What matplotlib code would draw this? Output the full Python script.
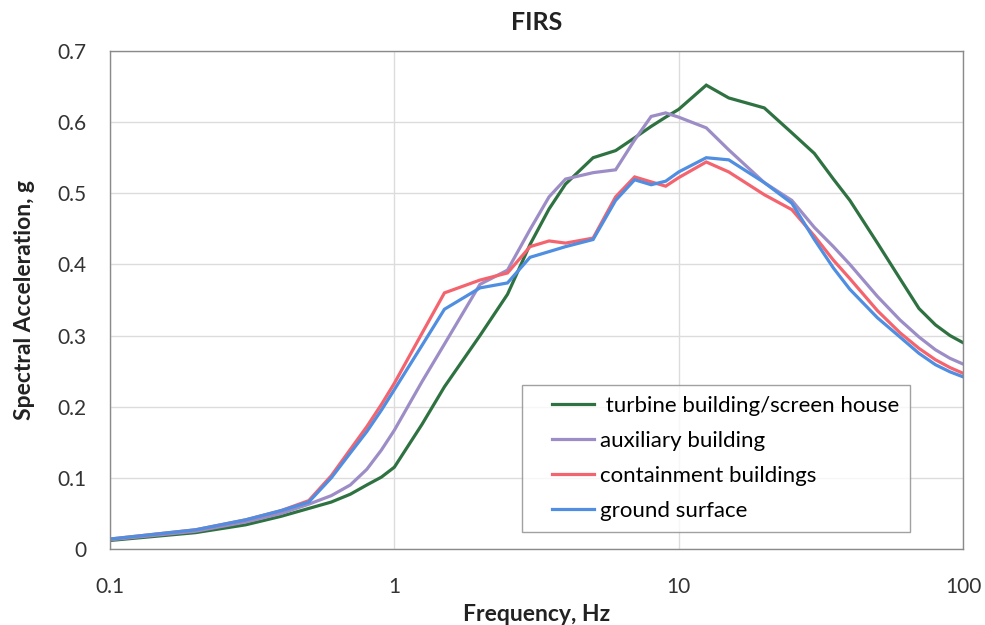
import matplotlib
matplotlib.use("Agg")
import matplotlib.pyplot as plt
from matplotlib.lines import Line2D
from matplotlib.legend_handler import HandlerLine2D
from matplotlib.ticker import FixedLocator, FixedFormatter, NullLocator

freq = [0.1, 0.2, 0.3, 0.4, 0.5, 0.6, 0.7, 0.8, 0.9, 1, 1.25, 1.5, 2, 2.5, 3,
        3.5, 4, 5, 6, 7, 8, 9, 10, 12.5, 15, 20, 25, 30, 35, 40, 50, 60, 70,
        80, 90, 100]

turbine = [0.012, 0.023, 0.034, 0.046, 0.057, 0.066, 0.077, 0.090, 0.101, 0.115,
           0.175, 0.228, 0.300, 0.358, 0.428, 0.478, 0.513, 0.550, 0.560, 0.578,
           0.594, 0.607, 0.618, 0.652, 0.634, 0.620, 0.585, 0.556, 0.520, 0.490,
           0.430, 0.380, 0.338, 0.315, 0.300, 0.290]

auxiliary = [0.013, 0.025, 0.038, 0.050, 0.063, 0.075, 0.090, 0.112, 0.139, 0.167,
             0.235, 0.288, 0.372, 0.392, 0.449, 0.495, 0.520, 0.529, 0.533, 0.575,
             0.608, 0.613, 0.607, 0.592, 0.561, 0.515, 0.490, 0.452, 0.425, 0.400,
             0.355, 0.322, 0.298, 0.280, 0.268, 0.260]

containment = [0.014, 0.027, 0.041, 0.054, 0.068, 0.103, 0.140, 0.172, 0.203, 0.233,
               0.303, 0.360, 0.378, 0.388, 0.425, 0.433, 0.430, 0.437, 0.495, 0.523,
               0.516, 0.510, 0.522, 0.544, 0.530, 0.498, 0.477, 0.440, 0.406, 0.380,
               0.335, 0.304, 0.282, 0.266, 0.255, 0.247]

ground = [0.014, 0.027, 0.041, 0.054, 0.066, 0.100, 0.135, 0.165, 0.195, 0.224,
          0.286, 0.337, 0.367, 0.374, 0.410, 0.418, 0.425, 0.435, 0.490, 0.519,
          0.512, 0.517, 0.530, 0.550, 0.547, 0.515, 0.486, 0.435, 0.395, 0.365,
          0.325, 0.298, 0.275, 0.259, 0.249, 0.242]

series_labels = [" turbine building/screen house", "auxiliary building",
                 "containment buildings", "ground surface"]
series_colors = ["#2f7242", "#9d8dc7", "#f4646f", "#4f8ee0"]

x_ticks = [0.1, 1, 10, 100]
x_tick_labels = ["0.1", "1", "10", "100"]
y_ticks = [0, 0.1, 0.2, 0.3, 0.4, 0.5, 0.6, 0.7]
y_tick_labels = ["0", "0.1", "0.2", "0.3", "0.4", "0.5", "0.6", "0.7"]

plt.rcParams["font.family"] = ["Lato", "DejaVu Sans"]

fig = plt.figure(figsize=(9.85, 6.25), dpi=100)
ax = fig.add_axes([0.1117, 0.1216, 0.8660, 0.7968])

for ys, lab, col in zip([turbine, auxiliary, containment, ground],
                        series_labels, series_colors):
    ax.plot(freq, ys, color=col, lw=2.3, label=lab, solid_joinstyle="miter")

ax.set_xscale("log")
ax.set_xlim(0.1, 100)
ax.set_ylim(0, 0.7)
ax.xaxis.set_major_locator(FixedLocator(x_ticks))
ax.xaxis.set_major_formatter(FixedFormatter(x_tick_labels))
ax.xaxis.set_minor_locator(NullLocator())
ax.set_yticks(y_ticks)
ax.set_yticklabels(y_tick_labels)

ax.grid(True, color="#dcdcdc", lw=1.0)
ax.set_axisbelow(True)
ax.tick_params(axis="both", length=0, labelsize=15, colors="#333333")
ax.tick_params(axis="y", pad=17)
ax.tick_params(axis="x", pad=20)
for sp in ax.spines.values():
    sp.set_color("#8a8a8a")
    sp.set_linewidth(1.0)

ax.set_title("FIRS", fontsize=18, fontweight="bold", color="#222222", pad=15)
ax.set_xlabel("Frequency, Hz", fontsize=16.5, fontweight="bold", color="#222222",
              labelpad=5)
ax.set_ylabel("Spectral Acceleration, g", fontsize=16.5, fontweight="bold",
              color="#222222", labelpad=16)

# legend keys are inset from the frame's left edge
leg = ax.legend(loc="lower right", bbox_to_anchor=(0.938, 0.034), fontsize=16,
                frameon=True, fancybox=False, edgecolor="#8a8a8a",
                handlelength=2.75, handletextpad=0.25, borderpad=0.5,
                labelspacing=0.68, borderaxespad=0,
                handler_map={Line2D: HandlerLine2D(xpad=0.86)})
leg.get_frame().set_linewidth(1.0)

fig.savefig("out.png", dpi=100, facecolor="white")
